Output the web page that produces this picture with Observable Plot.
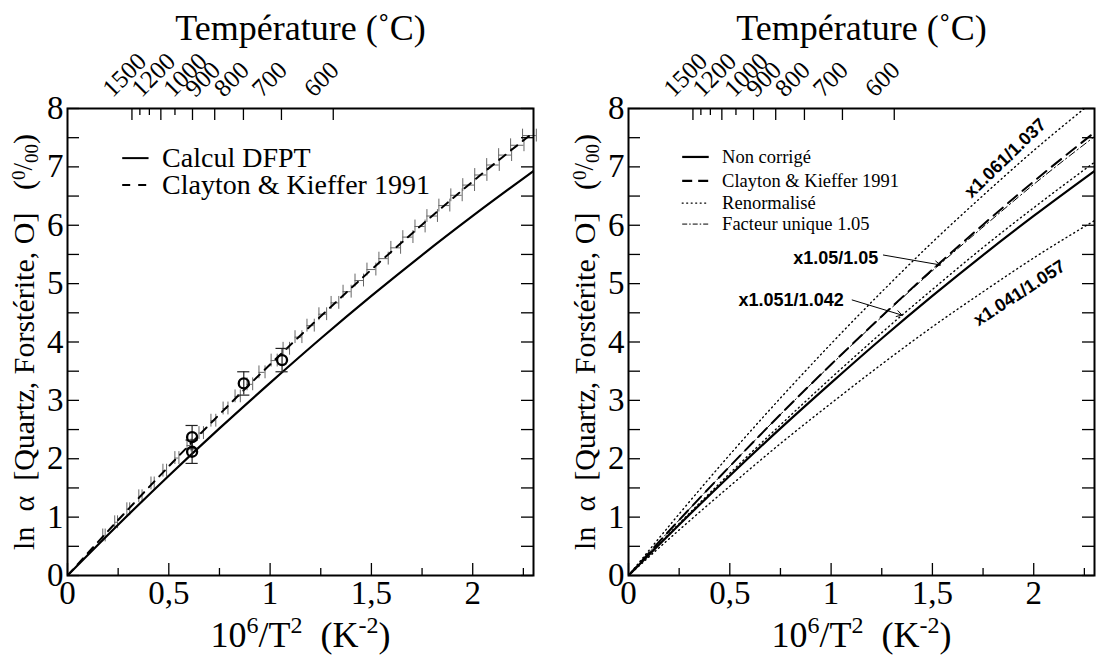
<!DOCTYPE html>
<html><head><meta charset="utf-8">
<script src="https://cdn.jsdelivr.net/npm/d3@7"></script>
<script src="https://cdn.jsdelivr.net/npm/@observablehq/plot@0.6"></script>
<style>
body{margin:0;background:#fff;}
#wrap{position:relative;width:1098px;height:662px;overflow:hidden;background:#fff}
.pan{position:absolute;top:0;}
#left{left:0}#right{left:549px}
</style></head><body><div id="wrap"><div id="left" class="pan"></div><div id="right" class="pan"></div></div>
<script>
// ---- data ----
const xs = [0, 0.25, 0.5, 0.75, 1.0, 1.25, 1.5, 1.75, 2.0, 2.3];
const dfpt = [0, 0.87, 1.71, 2.52, 3.30, 4.06, 4.79, 5.49, 6.16, 6.93];
const clayton = [0, 0.95, 1.87, 2.76, 3.615, 4.44, 5.24, 6.01, 6.75, 7.59];
const facteur105 = [0, 0.95, 1.87, 2.76, 3.61, 4.43, 5.22, 5.97, 6.70, 7.52];
const renormHaut = [0, 1.055, 2.07, 3.04, 3.97, 4.86, 5.71, 6.51, 7.28, 8.14];
const renormMilieu = [0, 0.89, 1.75, 2.58, 3.385, 4.16, 4.90, 5.62, 6.30, 7.08];
const renormBas = [0, 0.78, 1.53, 2.26, 2.95, 3.62, 4.26, 4.86, 5.44, 6.08];

const mesX = [0.615, 0.615, 0.87, 1.059];
const mesY = [2.37, 2.12, 3.29, 3.69];
const mesErr = [0.2, 0.2, 0.2, 0.2];

const ckErrX = [0.18,0.24,0.30,0.36,0.42,0.48,0.54,0.60,0.66,0.72,0.78,0.84,0.90,0.96,1.02,1.08,1.14,1.20,1.26,1.32,1.38,1.44,1.50,1.56,1.62,1.68,1.74,1.80,1.86,1.92,1.98,2.04,2.10,2.16,2.22,2.28];
const ckErrY = [0.686,0.912,1.135,1.357,1.577,1.796,2.012,2.227,2.440,2.652,2.861,3.069,3.275,3.480,3.682,3.884,4.083,4.280,4.476,4.670,4.862,5.053,5.241,5.428,5.613,5.797,5.979,6.158,6.337,6.513,6.688,6.861,7.032,7.202,7.370,7.536];
const ckErrDx = [0.006,0.007,0.007,0.008,0.008,0.009,0.010,0.010,0.011,0.012,0.012,0.013,0.014,0.015,0.015,0.016,0.017,0.018,0.019,0.019,0.020,0.021,0.022,0.023,0.024,0.025,0.025,0.026,0.027,0.028,0.029,0.030,0.031,0.032,0.033,0.034];

const tempMajor = [1500, 1200, 1000, 900, 800, 700, 600];
const tempMinor = [1400, 1300, 1100];

const xTickVals = [0, 0.5, 1, 1.5, 2];
const xMinorVals = [0.25, 0.75, 1.25, 1.75, 2.25];
const yTickVals = [0,1,2,3,4,5,6,7,8];
const yMinorVals = [0.5,1.5,2.5,3.5,4.5,5.5,6.5,7.5];

const legLeftLabels = ["Calcul DFPT", "Clayton & Kieffer 1991"];
const legLeftY = [7.15, 6.69];
const legRightLabels = ["Non corrigé", "Clayton & Kieffer 1991", "Renormalisé", "Facteur unique 1.05"];
const legRightY = [7.17, 6.76, 6.38, 6.02];

const annoText = ["x1.061/1.037", "x1.041/1.057", "x1.05/1.05", "x1.051/1.042"];
const annoX = [1.86, 1.93, 1.233, 1.062];
const annoY = [7.15, 4.84, 5.43, 4.72];
const annoRot = [-44, -33, 0, 0];
const annoAnchor = ["middle", "middle", "end", "end"];
const arrowX1 = [1.258, 1.104], arrowY1 = [5.49, 4.72];
const arrowX2 = [1.539, 1.35], arrowY2 = [5.32, 4.46];

const titleTop = "Température (˚C)";
const YT = "YTITLE_MARK";
const XT = "XTITLE_MARK";

// ---- helpers ----
const serif = "Liberation Serif";
const sans = "Liberation Sans";
const toRows = (arr) => xs.map((x, i) => ({x, y: arr[i]}));
const tPos = (T) => 1e6 / Math.pow(T + 273.15, 2);
const NS = "http://www.w3.org/2000/svg";

function fillParts(t, parts) {
  while (t.firstChild) t.removeChild(t.firstChild);
  for (const [s, size, dy] of parts) {
    const ts = document.createElementNS(NS, "tspan");
    ts.textContent = s;
    if (size) ts.setAttribute("font-size", size);
    if (dy) ts.setAttribute("dy", dy);
    t.appendChild(ts);
  }
}

function panel(isLeft) {
  const W = 549, H = 662, mT = 108, mB = 87;
  const mL = isLeft ? 67 : 79, mR = isLeft ? 16 : 4;
  const iW = W - mL - mR, iH = H - mT - mB;
  const marks = [];
  const line = (arr, o) => Plot.line(toRows(arr), {x: "x", y: "y", stroke: "black", curve: "monotone-x", clip: true, ...o});
  const legLine = (y, o) => Plot.link([y], {x1: isLeft ? 0.27 : 0.265, x2: isLeft ? 0.40 : 0.396, y1: d => d, y2: d => d, stroke: "black", ...o});

  if (isLeft) {
    const ck = ckErrX.map((x, i) => ({x, y: ckErrY[i], dx: ckErrDx[i]}));
    const capY = 0.11;
    marks.push(
      Plot.ruleY(ck, {y: "y", x1: d => d.x - d.dx, x2: d => d.x + d.dx, stroke: "#666", strokeWidth: 1}),
      Plot.ruleX(ck, {x: d => d.x - d.dx, y1: d => d.y - capY, y2: d => d.y + capY, stroke: "#666", strokeWidth: 1}),
      Plot.ruleX(ck, {x: d => d.x + d.dx, y1: d => d.y - capY, y2: d => d.y + capY, stroke: "#666", strokeWidth: 1}),
      line(clayton, {strokeWidth: 2, strokeDasharray: "8,7"}),
      line(dfpt, {strokeWidth: 2.2})
    );
    const mes = mesX.map((x, i) => ({x, y: mesY[i], e: mesErr[i]}));
    const capX = 0.03;
    marks.push(
      Plot.ruleX(mes, {x: "x", y1: d => d.y - d.e, y2: d => d.y + d.e, stroke: "#222", strokeWidth: 1.2}),
      Plot.ruleY(mes, {y: d => d.y + d.e, x1: d => d.x - capX, x2: d => d.x + capX, stroke: "#222", strokeWidth: 1.2}),
      Plot.ruleY(mes, {y: d => d.y - d.e, x1: d => d.x - capX, x2: d => d.x + capX, stroke: "#222", strokeWidth: 1.2}),
      Plot.dot(mes, {x: "x", y: "y", r: 5, stroke: "black", strokeWidth: 2.3, fill: "none"})
    );
    const leg = legLeftLabels.map((t, i) => ({t, y: legLeftY[i]}));
    marks.push(
      legLine(legLeftY[0], {strokeWidth: 2}),
      legLine(legLeftY[1], {strokeWidth: 2, strokeDasharray: "8,8"}),
      Plot.text(leg, {x: 0.467, y: "y", text: "t", textAnchor: "start", fontSize: 28, fontFamily: serif})
    );
  } else {
    marks.push(
      line(renormHaut, {strokeWidth: 1.4, strokeDasharray: "1,3.5", strokeLinecap: "round"}),
      line(renormMilieu, {strokeWidth: 1.4, strokeDasharray: "1,3.5", strokeLinecap: "round"}),
      line(renormBas, {strokeWidth: 1.4, strokeDasharray: "1,3.5", strokeLinecap: "round"}),
      line(clayton, {strokeWidth: 2, strokeDasharray: "12,7"}),
      line(facteur105, {strokeWidth: 1, strokeDasharray: "7,3,1.5,3"}),
      line(dfpt, {strokeWidth: 2.2})
    );
    const leg = legRightLabels.map((t, i) => ({t, y: legRightY[i]}));
    marks.push(
      legLine(legRightY[0], {strokeWidth: 2.2}),
      legLine(legRightY[1], {strokeWidth: 2.2, strokeDasharray: "10,6"}),
      legLine(legRightY[2], {strokeWidth: 1.3, strokeDasharray: "1,3.5", strokeLinecap: "round"}),
      legLine(legRightY[3], {strokeWidth: 1, strokeDasharray: "5,2,1.5,2"}),
      Plot.text(leg, {x: 0.462, y: "y", text: "t", textAnchor: "start", fontSize: 18.5, fontFamily: serif})
    );
    const anno = annoText.map((t, i) => ({t, x: annoX[i], y: annoY[i], r: annoRot[i], a: annoAnchor[i]}));
    marks.push(
      Plot.text(anno.filter(d => d.a === "middle"), {x: "x", y: "y", text: "t", rotate: "r", textAnchor: "middle", fontSize: 18, fontWeight: "bold", fontFamily: sans}),
      Plot.text(anno.filter(d => d.a === "end"), {x: "x", y: "y", text: "t", textAnchor: "end", fontSize: 18, fontWeight: "bold", fontFamily: sans}),
      Plot.arrow(arrowX1.map((x, i) => ({x1: x, y1: arrowY1[i], x2: arrowX2[i], y2: arrowY2[i]})),
        {x1: "x1", y1: "y1", x2: "x2", y2: "y2", bend: 0, headLength: 9, strokeWidth: 1, stroke: "black"})
    );
  }

  // frame, ticks, axes, titles
  marks.push(
    Plot.frame({stroke: "black", strokeWidth: 2}),
    Plot.tickX(xTickVals, {x: d => d, insetTop: iH - 12, strokeWidth: 1.3}),
    Plot.tickX(xMinorVals, {x: d => d, insetTop: iH - 7, strokeWidth: 1.3}),
    Plot.tickY(yTickVals.concat(yMinorVals), {y: d => d, insetRight: iW - 12, strokeWidth: 1.3}),
    Plot.tickY(yTickVals.concat(yMinorVals), {y: d => d, insetLeft: iW - 12, strokeWidth: 1.3}),
    Plot.tickX(tempMajor, {x: d => tPos(d), insetBottom: iH - 12, strokeWidth: 1.3}),
    Plot.tickX(tempMinor, {x: d => tPos(d), insetBottom: iH - 7, strokeWidth: 1.3}),
    Plot.text(tempMajor, {x: d => tPos(d), frameAnchor: "top", text: d => String(d), rotate: -45,
      textAnchor: "start", lineAnchor: "middle", dx: -25, dy: -16, fontSize: 25, fontFamily: serif}),
    Plot.axisX({ticks: xTickVals, tickSize: 0, tickPadding: 5, tickFormat: d => String(d).replace(".", ","), fontSize: 33, fontFamily: serif, label: null}),
    Plot.axisY({ticks: yTickVals, tickSize: 0, tickPadding: 4, fontSize: 33, fontFamily: serif, label: null}),
    Plot.text([titleTop], {frameAnchor: "top", lineAnchor: "middle", textAnchor: "middle", dy: -80, fontSize: 36, fontFamily: serif}),
    Plot.text([XT], {frameAnchor: "bottom", lineAnchor: "middle", textAnchor: "middle", dy: 60, fontSize: 36, fontFamily: serif}),
    Plot.text([YT], {frameAnchor: "left", textAnchor: "middle", lineAnchor: "middle", dx: -43, rotate: -90, fontSize: 30, fontFamily: serif})
  );

  const svg = Plot.plot({
    width: W, height: H, marginTop: mT, marginBottom: mB, marginLeft: mL, marginRight: mR,
    x: {domain: [0, 2.3]}, y: {domain: [0, 8]},
    style: {fontFamily: serif, background: "white", color: "black", overflow: "visible"},
    marks
  });
  // fonts: serif everywhere except the bold annotations
  for (const t of svg.querySelectorAll("text")) {
    const g = t.closest("g");
    const bold = (t.getAttribute("font-weight") || (g && g.getAttribute("font-weight")) || "") === "bold";
    t.style.fontFamily = bold ? '"Liberation Sans", Arial, sans-serif' : '"Liberation Serif", "Times New Roman", serif';
    if (bold) t.style.fontWeight = "bold";
  }
  // rich titles (superscripts, per-mille fraction)
  for (const t of svg.querySelectorAll("text")) {
    if (t.textContent === XT) {
      fillParts(t, [["10"], ["6", 24, -14], ["/T", null, 14], ["2", 24, -14], ["\u00a0\u00a0(K", null, 14], ["-2", 24, -14], [")", null, 14]]);
    } else if (t.textContent === YT) {
      t.style.whiteSpace = "pre";
      fillParts(t, [["ln  α  [Quartz, Forstérite, O]   ("], ["0", 19, -9], ["/", 27, 7], ["00", 19, 6], [")", null, -4]]);
    }
  }
  return svg;
}

document.getElementById("left").appendChild(panel(true));
document.getElementById("right").appendChild(panel(false));
</script>
</body></html>
